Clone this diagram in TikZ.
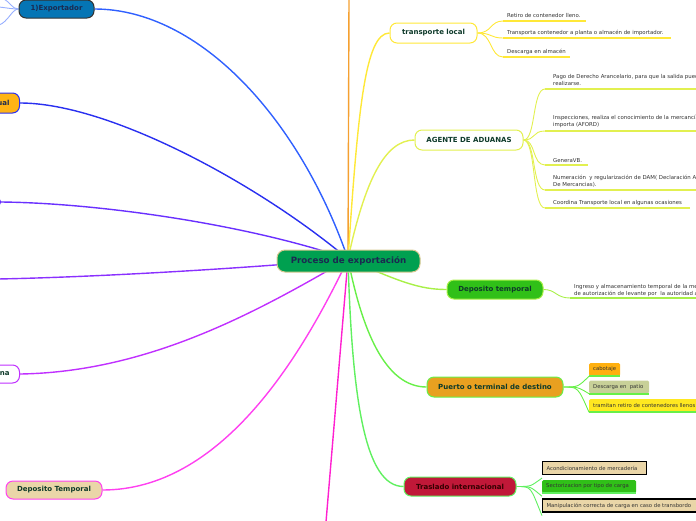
\documentclass[tikz,border=0pt]{standalone}
\usepackage{fontspec}
\setmainfont{DejaVu Sans}
\usetikzlibrary{backgrounds}
\definecolor{cMain}{HTML}{00A050}
\definecolor{cMainB}{HTML}{D8C890}
\definecolor{cNavy}{HTML}{1A2A50}
\definecolor{cDk}{HTML}{0E3A2A}
\definecolor{cExp}{HTML}{0575B5}
\definecolor{cOr}{HTML}{F5A030}
\definecolor{cL1}{HTML}{3060FF}
\definecolor{cL2}{HTML}{2A30F0}
\definecolor{cL3}{HTML}{6A30FF}
\definecolor{cL4}{HTML}{8A30FF}
\definecolor{cL5}{HTML}{C030FF}
\definecolor{cL6}{HTML}{FF40F0}
\definecolor{cL7}{HTML}{FF20D0}
\definecolor{cYe}{HTML}{FFE838}
\definecolor{cAg}{HTML}{E2F050}
\definecolor{cDt}{HTML}{A8F048}
\definecolor{cPu}{HTML}{68F048}
\definecolor{cTr}{HTML}{60F060}
\definecolor{cTan}{HTML}{EAD6A8}
\definecolor{cGr}{HTML}{30C018}
\definecolor{cPuF}{HTML}{E8A020}
\definecolor{cCrim}{HTML}{C01838}
\definecolor{cCab}{HTML}{FFB010}
\definecolor{cDes}{HTML}{C8D098}
\definecolor{cTra}{HTML}{FFE820}
\definecolor{cUal}{HTML}{FFB414}
\definecolor{cSub}{HTML}{333333}
\tikzset{
  topic/.style={rounded corners=7pt, line width=1pt, draw, inner sep=0pt,
    font=\bfseries\fontsize{7}{8}\selectfont, text=cDk},
  conn/.style={line width=1.4pt},
  subc/.style={line width=0.9pt},
  uline/.style={line width=2pt},
  subtxt/.style={font=\fontsize{5.4}{6.8}\selectfont, text=cSub, inner sep=0pt, align=left},
  boxtxt/.style={font=\fontsize{5.3}{6.5}\selectfont, text=cSub, inner xsep=4pt, inner ysep=0pt, minimum height=13pt, anchor=west},
}
\newcommand{\bx}[2]{\makebox[#1][l]{#2}}
\begin{document}
\begin{tikzpicture}[x=1pt,y=-1pt]
\clip (0,0) rectangle (696,520);
\coordinate (c) at (348,259);
% ---- main nodes
\node[topic, fill=cMain, draw=cMainB, text=cNavy, minimum width=143pt, minimum height=22pt, rounded corners=8pt, font=\bfseries\fontsize{8.7}{10}\selectfont] (center) at (348.5,261) {Proceso de exportación};
\node[topic, fill=cExp, draw=black!80, text=cNavy, minimum width=75pt, minimum height=18pt] (exp) at (56.5,9) {1)Exportador};
\node[topic, fill=cUal, draw=cL2, text=cNavy, minimum height=20pt, inner xsep=10pt, text width=50pt, align=right, anchor=east] (ual) at (20,103) {ual};
\node[topic, fill=white, draw=cL3, minimum height=12pt, minimum width=40pt, anchor=east] (vio) at (1,202) {};
\coordinate (p279) at (-2,279);
\node[topic, fill=white, draw=cL5, minimum height=18pt, inner xsep=10pt, text width=50pt, align=right, anchor=east] (na) at (20,374) {na};
\node[topic, fill=cTan, draw=cL6, minimum width=96pt, minimum height=18pt] (dep) at (54,490) {Deposito Temporal};
\coordinate (bot) at (326,522);
\coordinate (top) at (349,-2);
\node[topic, fill=white, draw=cYe, minimum width=87pt, minimum height=20pt] (tl) at (433.5,33) {transporte local};
\node[topic, fill=white, draw=cAg, minimum width=108pt, minimum height=20pt] (ag) at (469,140) {AGENTE DE ADUANAS};
\node[topic, fill=cGr, draw=cDt, minimum width=96pt, minimum height=19pt] (dt) at (495,289.5) {Deposito temporal};
\node[topic, fill=cPuF, draw=cPu, minimum width=136pt, minimum height=20pt] (pu) at (495,387) {Puerto o terminal de destino};
\node[topic, fill=cCrim, draw=cTr, text=black!80!red, minimum width=112pt, minimum height=19pt] (tr) at (460,486.5) {Traslado internacional};
% ---- main connectors
\begin{scope}[on background layer]
\draw[conn, cOr] (c) -- (top);
\draw[conn, cL1] (c) .. controls (300,120) and (200,9) .. (exp.east);
\draw[conn, cL2] (c) .. controls (260,185) and (110,103) .. (ual.east);
\draw[conn, cL3] (c) .. controls (250,225) and (100,203) .. (vio.east);
\draw[conn, cL4] (c) .. controls (250,268) and (100,277) .. (p279);
\draw[conn, cL5] (c) .. controls (260,310) and (150,372) .. (na.east);
\draw[conn, cL6] (c) .. controls (300,360) and (220,490) .. (dep.east);
\draw[conn, cL7] (c) -- (bot);
\draw[conn, cYe] (c) .. controls (358,110) and (365,33) .. (tl.west);
\draw[conn, cAg] (c) .. controls (365,180) and (385,140) .. (ag.west);
\draw[conn, cDt] (c) .. controls (400,282) and (420,289.5) .. (dt.west);
\draw[conn, cPu] (c) .. controls (362,330) and (385,387) .. (pu.west);
\draw[conn, cTr] (c) .. controls (352,400) and (365,486.5) .. (tr.west);
% small left lines of Exportador
\draw[subc, cL1!50] (exp.west) .. controls (12,9) and (10,2) .. (4,-1);
\draw[subc, cL1!50] (exp.west) .. controls (12,9) and (8,8) .. (-1,7);
\draw[subc, cL1!50] (exp.west) .. controls (12,9) and (8,22) .. (-1,25);
\end{scope}
% ---- transporte local
\foreach \y/\len/\n in {21/83/a, 38/168/b, 57/67/c}{
  \coordinate (tl\n) at (503,\y);
  \draw[uline, cYe] (tl\n) -- ++(\len,0);
  \draw[subc, cYe] (tl.east) .. controls (492,33) and (490,\y) .. (tl\n);
}
\node[subtxt, anchor=base west] (tlt1) at (507,17.5) {Retiro de contenedor lleno.};
\node[subtxt, anchor=base west] (tlt2) at (507,34.5) {Transporta contenedor a planta o almacén de importador.};
\node[subtxt, anchor=base west] (tlt3) at (507,53.5) {Descarga en almacén};
% ---- agente de aduanas
\foreach \y/\len/\n in {89/160/a, 131/160/b, 165/43/c, 190/160/d, 208/145/e}{
  \coordinate (ag\n) at (545,\y);
  \draw[uline, cAg] (ag\n) -- ++(\len,0);
  \draw[subc, cAg] (ag.east) .. controls (536,140) and (532,\y) .. (ag\n);
}
\node[subtxt, anchor=base west] (agt1) at (553,85) {Pago de Derecho Arancelario, para que la salida pueda\\realizarse.};
\node[subtxt, anchor=base west] (agt2) at (553,126.5) {Inspecciones, realiza el conocimiento de la mercancía que se\\importa (AFORD)};
\node[subtxt, anchor=base west] (agt3) at (553,162) {GeneraVB.};
\node[subtxt, anchor=base west] (agt4) at (553,186.5) {Numeración\ \ y regularización de DAM( Declaración Aduanera\\De Mercancias).};
\node[subtxt, anchor=base west] (agt5) at (553,204.5) {Coordina Transporte local en algunas ocasiones};
% ---- deposito temporal
\coordinate (dta) at (570,298);
\draw[uline, cDt] (dta) -- ++(140,0);
\draw[subc, cDt] (dt.east) .. controls (556,289.5) and (556,298) .. (dta);
\node[subtxt, anchor=base west] (dtt1) at (574,295) {Ingreso y almacenamiento temporal de la mercancía\\de autorización de levante por\ \ la autoridad aduanera};
% ---- puerto
\node[boxtxt, fill=cCab, rounded corners=1.5pt] (pb1) at (589,369.5) {\bx{23pt}{cabotaje}};
\node[boxtxt, fill=cDes, rounded corners=1.5pt] (pb2) at (589,387) {\bx{52pt}{Descarga en\ \ patio}};
\node[boxtxt, fill=cTra, rounded corners=1.5pt] (pb3) at (589,405.5) {\bx{120pt}{tramitan retiro de contenedores llenos}};
\foreach \b in {pb1,pb2,pb3}{
  \draw[uline, cPu] (\b.south west) -- (\b.south east);
  \draw[subc, cPu] (pu.east) .. controls (578,387) and (578,387) .. (\b.south west);
}
% ---- traslado
\node[boxtxt, fill=cTan, draw=black, line width=1.2pt] (tb1) at (542,468) {\bx{96pt}{Acondicionamiento de mercadería}};
\node[boxtxt, fill=cGr, rounded corners=1.5pt] (tb2) at (542,486.5) {\bx{86pt}{Sectorizacion por tipo de carga}};
\node[boxtxt, fill=cTan, draw=black, line width=1.2pt] (tb3) at (542,505.5) {\bx{170pt}{Manipulación correcta de carga en caso de transbordo}};
\draw[uline, cTr] (tb2.south west) -- (tb2.south east);
\begin{scope}[on background layer]
\foreach \b in {tb1,tb2,tb3}{
  \draw[subc, cTr] (tr.east) .. controls (532,486.5) and (530,486.5) .. ([yshift=-3pt]\b.south west);
}
\end{scope}
\end{tikzpicture}
\end{document}
